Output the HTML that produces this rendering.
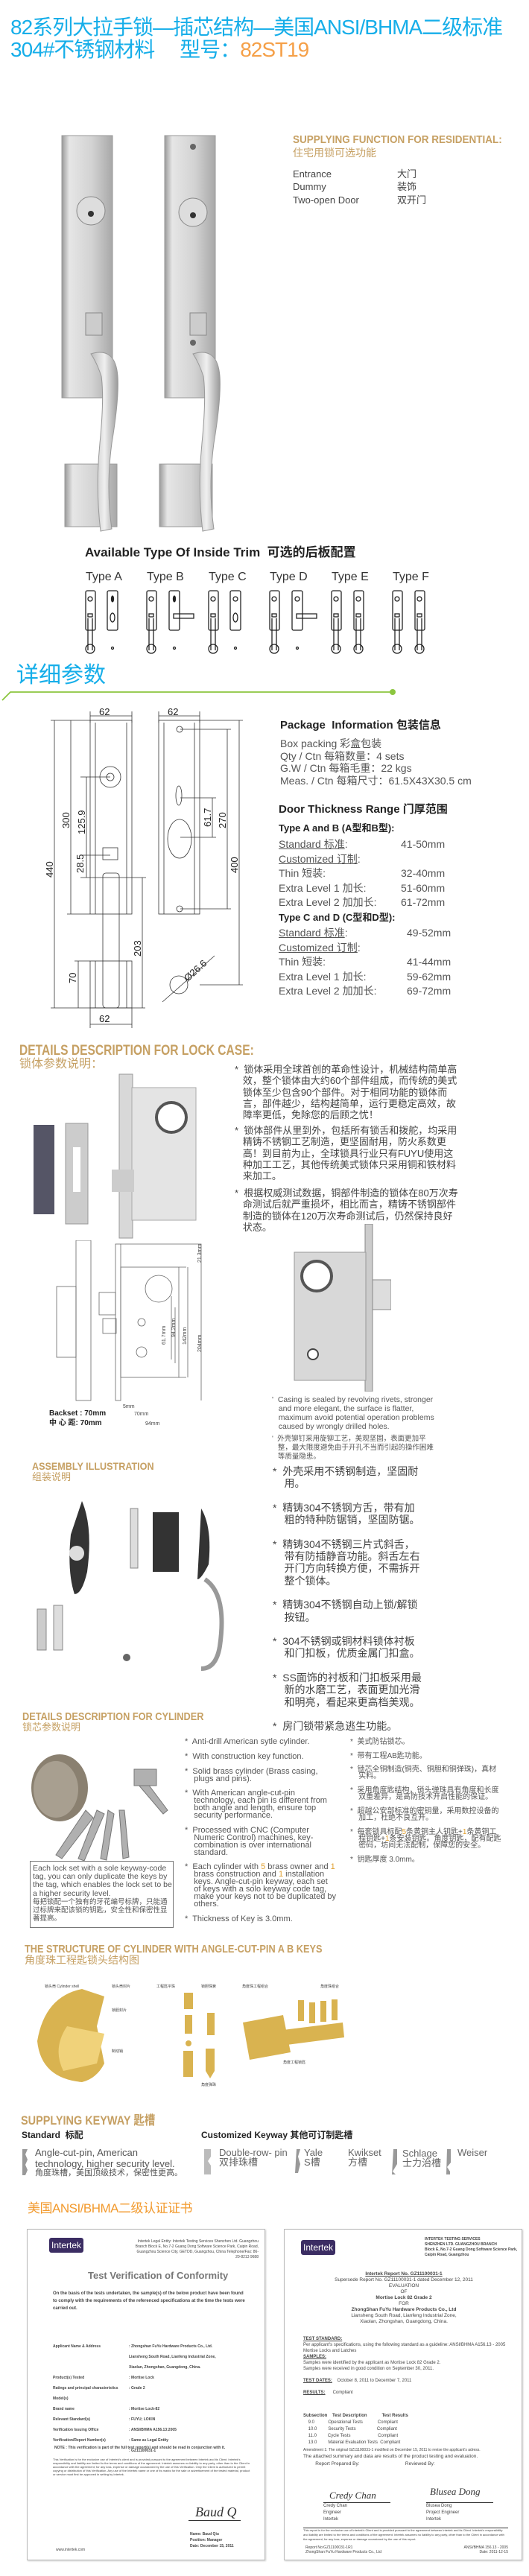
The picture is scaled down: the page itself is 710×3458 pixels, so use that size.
<!DOCTYPE html>
<html><head><meta charset="utf-8"><style>
body{margin:0;background:#fff;}
#p{position:relative;width:710px;height:3458px;overflow:hidden;font-family:"Liberation Sans","Noto Sans CJK SC",sans-serif;color:#555;}
.a{position:absolute;white-space:nowrap;line-height:1;}
.t{color:#16aee9;font-size:28px;}
.g{color:#c6a063;font-weight:bold;transform-origin:0 0;}
.gc{color:#c6a063;}
.s{font-size:13px;color:#444;}
.cert{position:absolute;border:1px solid #bbb;background:#fff;box-shadow:1px 1px 2px #ccc;}
.logo{position:absolute;background:#3b2d63;color:#fff;font-size:12px;padding:3px 3px;border-radius:3px;}
.fine{position:absolute;font-size:5px;color:#444;line-height:7px;white-space:normal;}
</style></head><body><div id="p">

<div class="a t" style="left:14px;top:23px;letter-spacing:-1px;">82系列大拉手锁—插芯结构—美国ANSI/BHMA二级标准</div>
<div class="a t" style="left:14px;top:53px;letter-spacing:-1px;">304#不锈钢材料&nbsp;&nbsp;&nbsp;&nbsp;&nbsp;型号：<span style="color:#f5a048">82ST19</span></div>

<svg class="a" style="left:60px;top:175px" width="260" height="550">
<defs><linearGradient id="m" x1="0" x2="1"><stop offset="0" stop-color="#9a9a9a"/><stop offset=".15" stop-color="#e6e6e6"/><stop offset=".6" stop-color="#d2d2d2"/><stop offset="1" stop-color="#a8a8a8"/></linearGradient>
<linearGradient id="h" x1="0" x2="1"><stop offset="0" stop-color="#bbb"/><stop offset=".5" stop-color="#f0f0f0"/><stop offset="1" stop-color="#999"/></linearGradient></defs>
<rect x="23" y="7" width="68" height="352" fill="url(#m)" stroke="#999"/>
<rect x="161" y="7" width="68" height="352" fill="url(#m)" stroke="#999"/>
<circle cx="62" cy="108" r="19" fill="#ddd" stroke="#888"/><circle cx="62" cy="112" r="4" fill="#333"/>
<circle cx="199" cy="110" r="19" fill="#ddd" stroke="#888"/><circle cx="199" cy="114" r="4" fill="#333"/>
<circle cx="199" cy="22" r="4" fill="#666"/><circle cx="199" cy="285" r="4" fill="#666"/>
<rect x="55" y="245" width="22" height="30" fill="#ccc" stroke="#888"/><rect x="195" y="245" width="22" height="30" fill="#ccc" stroke="#888"/>
<rect x="27" y="448" width="70" height="84" fill="url(#m)" stroke="#999"/>
<rect x="154" y="448" width="71" height="84" fill="url(#m)" stroke="#999"/>
<path d="M62 300 Q95 290 98 330 Q100 360 90 420 Q82 480 90 535 L75 538 Q68 480 74 420 Q80 360 76 330 Q70 312 62 300Z" fill="url(#h)" stroke="#999"/>
<path d="M199 300 Q232 290 235 330 Q237 360 227 420 Q219 480 227 535 L212 538 Q205 480 211 420 Q217 360 213 330 Q207 312 199 300Z" fill="url(#h)" stroke="#999"/>
</svg>

<div class="a g" style="left:393px;top:180px;font-size:15px;transform:scaleX(.9)">SUPPLYING FUNCTION FOR RESIDENTIAL:</div>
<div class="a gc" style="left:393px;top:198px;font-size:14px">住宅用锁可选功能</div>
<div class="a s" style="left:393px;top:227px">Entrance</div><div class="a s" style="left:533px;top:227px">大门</div>
<div class="a s" style="left:393px;top:244px">Dummy</div><div class="a s" style="left:533px;top:244px">装饰</div>
<div class="a s" style="left:393px;top:262px">Two-open Door</div><div class="a s" style="left:533px;top:262px">双开门</div>

<div class="a" style="left:114px;top:733px;font-size:17px;font-weight:bold;color:#222">Available Type Of Inside Trim&nbsp; 可选的后板配置</div>
<div class="a" style="left:115px;top:767px;font-size:16px;color:#333">Type A</div>
<div class="a" style="left:197px;top:767px;font-size:16px;color:#333">Type B</div>
<div class="a" style="left:280px;top:767px;font-size:16px;color:#333">Type C</div>
<div class="a" style="left:362px;top:767px;font-size:16px;color:#333">Type D</div>
<div class="a" style="left:445px;top:767px;font-size:16px;color:#333">Type E</div>
<div class="a" style="left:527px;top:767px;font-size:16px;color:#333">Type F</div>
<svg class="a" style="left:0;top:790px" width="710" height="92" fill="none" stroke="#222" stroke-width="1.3">
<g id="ty">
<rect x="115" y="3" width="13" height="53" rx="2"/><circle cx="121" cy="14" r="3"/><rect x="118" y="34" width="6" height="4"/>
<path d="M118 40 v43 M124 40 v43"/><circle cx="121" cy="81" r="6"/>
</g>
<g><rect x="144" y="3" width="14" height="53" rx="2"/><ellipse cx="151" cy="14" rx="1.5" ry="4" fill="#222"/><ellipse cx="151" cy="39" rx="3" ry="6"/><circle cx="151" cy="80" r="1.5"/></g>
<use href="#ty" x="82"/>
<g><rect x="227" y="3" width="14" height="53" rx="2"/><ellipse cx="234" cy="14" rx="1.5" ry="4" fill="#222"/><path d="M233 34 h27 v6 h-27z"/><circle cx="234" cy="80" r="1.5"/></g>
<use href="#ty" x="165"/>
<g><rect x="309" y="3" width="14" height="53" rx="2"/><circle cx="316" cy="14" r="3"/><ellipse cx="316" cy="39" rx="3" ry="6"/><circle cx="316" cy="80" r="1.5"/></g>
<use href="#ty" x="247"/>
<g><rect x="392" y="3" width="14" height="53" rx="2"/><circle cx="399" cy="14" r="3"/><path d="M398 34 h27 v6 h-27z"/><circle cx="399" cy="80" r="1.5"/></g>
<use href="#ty" x="330"/><use href="#ty" x="360"/>
<use href="#ty" x="412"/><use href="#ty" x="442"/>
</svg>

<div class="a" style="left:22px;top:892px;font-size:30px;color:#16aee9">详细参数</div>
<svg class="a" style="left:0;top:920px" width="540" height="30"><path d="M3 20 L14 9 L527 9" stroke="#8cc63f" stroke-width="1.8" fill="none"/><circle cx="527" cy="9" r="4" fill="#8cc63f"/></svg>

<svg class="a" style="left:0;top:940px" width="360" height="440" font-family="Liberation Sans" font-size="12" fill="none" stroke="#333" stroke-width=".8">
<g transform="translate(0,-940)">
<rect x="121" y="967" width="56" height="260"/><path d="M128 970 V1227 M170 970 V1227"/>
<circle cx="148" cy="1043" r="14"/><circle cx="148" cy="1043" r="5"/>
<rect x="138" y="1138" width="20" height="16"/>
<rect x="138" y="1172" width="22" height="181" rx="4"/>
<rect x="121" y="1290" width="56" height="63"/><path d="M128 1290 V1353 M170 1290 V1353"/>
<rect x="213" y="967" width="55" height="260"/><path d="M220 970 V1227 M261 970 V1227"/>
<circle cx="241" cy="979" r="4"/><circle cx="241" cy="1220" r="4"/>
<ellipse cx="240" cy="1068" rx="4" ry="13"/><ellipse cx="241" cy="1126" rx="16" ry="26"/>
<path d="M68 967 H121 M68 1353 H195 M90 1227 H121 M108 1043 H148 M108 1148 H148 M108 1178 H196 M100 1290 H121 M242 979 H310 M242 1071 H290 M242 1124 H290 M242 1220 H310 M268 967 H326 M268 1322 H326"/>
<path d="M73 967 V1353 M95 967 V1227 M116 1043 V1148 M116 1148 V1178 M105 1290 V1353 M191 1178 V1353 M321 967 V1322 M305 979 V1220 M285 1071 V1124"/>
<path d="M121 955 V970 M177 955 V970 M121 961 H177 M213 955 V970 M268 955 V970 M213 961 H268 M121 1353 V1382 M177 1353 V1382 M121 1375 H177"/>
<circle cx="240" cy="1322" r="12"/><path d="M218 1345 L288 1283"/>
</g>
<g fill="#222" stroke="none" font-size="13">
<text x="133" y="20">62</text><text x="225" y="20">62</text><text x="133" y="432">62</text>
<text transform="translate(71,238) rotate(-90)">440</text>
<text transform="translate(93,172) rotate(-90)">300</text>
<text transform="translate(114,180) rotate(-90)">125.9</text>
<text transform="translate(112,232) rotate(-90)">28.5</text>
<text transform="translate(102,380) rotate(-90)">70</text>
<text transform="translate(189,344) rotate(-90)">203</text>
<text transform="translate(319,232) rotate(-90)">400</text>
<text transform="translate(303,172) rotate(-90)">270</text>
<text transform="translate(283,170) rotate(-90)">61.7</text>
<text transform="translate(252,378) rotate(-42)">Ø26.6</text>
</g></svg>

<div class="a" style="left:376px;top:966px;font-size:15px;font-weight:bold;color:#222">Package&nbsp; Information 包装信息</div>
<div class="a" style="left:376px;top:990px;font-size:14px;line-height:16.5px;color:#555;white-space:pre">Box packing 彩盒包装
Qty / Ctn 每箱数量：4 sets
G.W / Ctn 每箱毛重：22 kgs
Meas. / Ctn 每箱尺寸：61.5X43X30.5 cm</div>
<div class="a" style="left:374px;top:1079px;font-size:15px;font-weight:bold;color:#222">Door Thickness Range 门厚范围</div>
<div class="a" style="left:374px;top:1105px;font-size:13px;font-weight:bold;color:#222">Type A and B (A型和B型):</div>
<div class="a" style="left:374px;top:1124px;font-size:14px;line-height:19.5px;color:#555;white-space:pre"><u>Standard 标准</u>:
<u>Customized 订制</u>:
Thin 短装:
Extra Level 1 加长:
Extra Level 2 加加长:</div>
<div class="a" style="left:538px;top:1124px;font-size:14px;line-height:19.5px;color:#555;white-space:pre">41-50mm

32-40mm
51-60mm
61-72mm</div>
<div class="a" style="left:374px;top:1225px;font-size:13px;font-weight:bold;color:#222">Type C and D (C型和D型):</div>
<div class="a" style="left:374px;top:1243px;font-size:14px;line-height:19.5px;color:#555;white-space:pre"><u>Standard 标准</u>:
<u>Customized 订制</u>:
Thin 短装:
Extra Level 1 加长:
Extra Level 2 加加长:</div>
<div class="a" style="left:546px;top:1243px;font-size:14px;line-height:19.5px;color:#555;white-space:pre">49-52mm

41-44mm
59-62mm
69-72mm</div>

<div class="a g" style="left:26px;top:1401px;font-size:19px;transform:scaleX(.82)">DETAILS DESCRIPTION FOR LOCK CASE:</div>
<div class="a gc" style="left:26px;top:1421px;font-size:16px">锁体参数说明：</div>
<div class="a" style="left:315px;top:1428px;font-size:13px;line-height:15.3px;color:#444;white-space:pre">*  锁体采用全球首创的革命性设计，机械结构简单高
   效，整个锁体由大约60个部件组成，而传统的美式
   锁体至少包含90个部件。对于相同功能的锁体而
   言，部件越少，结构越简单，运行更稳定高效，故
   障率更低，免除您的后顾之忧！</div>
<div class="a" style="left:315px;top:1510px;font-size:13px;line-height:15.3px;color:#444;white-space:pre">*  锁体部件从里到外，包括所有锁舌和拨舵，均采用
   精铸不锈钢工艺制造，更坚固耐用，防火系数更
   高！到目前为止，全球锁具行业只有FUYU使用这
   种加工工艺，其他传统美式锁体只采用铜和铁材料
   来加工。</div>
<div class="a" style="left:315px;top:1594px;font-size:13px;line-height:15.3px;color:#444;white-space:pre">*  根据权威测试数据，铜部件制造的锁体在80万次寿
   命测试后就严重损坏，相比而言，精铸不锈钢部件
   制造的锁体在120万次寿命测试后，仍然保持良好
   状态。</div>

<svg class="a" style="left:40px;top:1440px" width="230" height="225">
<rect x="5" y="70" width="28" height="120" fill="#556" /><rect x="48" y="68" width="30" height="135" fill="#ccc" stroke="#999"/><rect x="58" y="100" width="10" height="60" fill="#fff"/>
<rect x="120" y="2" width="18" height="220" fill="#d8d8d8" stroke="#999"/>
<rect x="137" y="20" width="86" height="178" fill="#e4e4e4" stroke="#aaa"/><circle cx="190" cy="60" r="20" fill="#fff" stroke="#555" stroke-width="4"/>
<rect x="110" y="130" width="30" height="30" fill="#ccc"/></svg>
<svg class="a" style="left:70px;top:1665px" width="240" height="250" fill="none" stroke="#666" stroke-width=".8" font-family="Liberation Sans" font-size="7">
<rect x="32" y="0" width="20" height="215"/><rect x="6" y="62" width="26" height="95"/>
<rect x="85" y="5" width="7" height="210"/><rect x="92" y="36" width="78" height="148"/>
<circle cx="143" cy="65" r="18"/><circle cx="120" cy="110" r="5"/><circle cx="120" cy="150" r="7"/>
<rect x="63" y="70" width="22" height="30"/><rect x="68" y="105" width="18" height="20"/>
<path d="M92 5 H200 V215 M170 36 H180 M170 184 H180 M182 36 V184 M160 75 V160 M165 90 V165" />
<g fill="#444" stroke="none"><text transform="translate(200,30) rotate(-90)">21.3mm</text><text transform="translate(200,150) rotate(-90)">204mm</text><text transform="translate(180,140) rotate(-90)">142mm</text><text transform="translate(165,130) rotate(-90)">94.2mm</text><text transform="translate(152,140) rotate(-90)">61.7mm</text><text x="95" y="225">5mm</text><text x="110" y="235">70mm</text><text x="125" y="248">94mm</text></g>
</svg>
<div class="a" style="left:66px;top:1891px;font-size:10px;font-weight:bold;color:#222;line-height:13px;white-space:pre">Backset : 70mm
中 心 距: 70mm</div>
<svg class="a" style="left:390px;top:1643px" width="135" height="225">
<rect x="100" y="0" width="10" height="225" fill="#ccc" stroke="#888"/><rect x="5" y="38" width="96" height="172" fill="#d8d8d8" stroke="#999"/>
<circle cx="35" cy="70" r="20" fill="#fff" stroke="#555" stroke-width="4"/><rect x="110" y="75" width="25" height="40" fill="#ddd" stroke="#888"/><circle cx="30" cy="175" r="7" fill="#fff" stroke="#444" stroke-width="2"/></svg>
<div class="a" style="left:365px;top:1873px;font-size:10.5px;line-height:12px;color:#555;white-space:pre">'  Casing is sealed by revolving rivets, stronger
   and more elegant, the surface is flatter,
   maximum avoid potential operation problems
   caused by wrongly drilled holes.</div>
<div class="a" style="left:365px;top:1926px;font-size:9.5px;line-height:12px;color:#555;white-space:pre">'  外壳铆钉采用旋铆工艺，美观坚固，表面更加平
   整，最大限度避免由于开孔不当而引起的操作困难
   等质量隐患。</div>

<div class="a g" style="left:43px;top:1961px;font-size:14px;transform:scaleX(.9)">ASSEMBLY ILLUSTRATION</div>
<div class="a gc" style="left:43px;top:1976px;font-size:13px">组装说明</div>
<div class="a" style="left:366px;top:1967px;font-size:14px;line-height:16.3px;color:#444;white-space:pre">*  外壳采用不锈钢制造，坚固耐
    用。

*  精铸304不锈钢方舌，带有加
    粗的特种防锯销，坚固防锯。

*  精铸304不锈钢三片式斜舌，
    带有防插静音功能。斜舌左右
    开门方向转换方便，不需拆开
    整个锁体。

*  精铸304不锈钢自动上锁/解锁
    按钮。

*  304不锈钢或铜材料锁体衬板
    和门扣板，优质金属门扣盒。

*  SS面饰的衬板和门扣板采用最
    新的水磨工艺，表面更加光滑
    和明亮，看起来更高档美观。

*  房门锁带紧急逃生功能。</div>
<svg class="a" style="left:45px;top:2010px" width="260" height="260" fill="#333">
<path d="M65 5 Q80 40 72 100 Q65 130 55 130 Q45 100 50 50Z"/><circle cx="58" cy="75" r="10" fill="#ddd"/>
<rect x="130" y="15" width="10" height="80" fill="#ddd" stroke="#888"/><rect x="160" y="20" width="35" height="80"/>
<path d="M225 15 Q240 40 235 90 Q225 110 220 110Z"/><path d="M230 110 Q260 130 250 200 Q245 230 225 230" fill="none" stroke="#999" stroke-width="6"/>
<rect x="5" y="150" width="12" height="55" fill="#ccc" stroke="#888"/><rect x="27" y="145" width="12" height="60" fill="#ddd" stroke="#888"/><circle cx="125" cy="215" r="5" fill="#666"/></svg>

<div class="a g" style="left:30px;top:2297px;font-size:15px;transform:scaleX(.85)">DETAILS DESCRIPTION FOR CYLINDER</div>
<div class="a gc" style="left:30px;top:2312px;font-size:13px">锁芯参数说明</div>
<svg class="a" style="left:35px;top:2350px" width="200" height="150">
<ellipse cx="45" cy="50" rx="38" ry="45" fill="#8a8070"/><ellipse cx="40" cy="52" rx="30" ry="38" fill="#a89f90"/>
<g fill="#b0b0b0" stroke="#777"><path d="M80 80 L40 140 L48 145 L90 90Z"/><path d="M95 80 L70 145 L78 148 L105 85Z"/><path d="M110 80 L100 145 L108 147 L118 85Z"/><path d="M125 80 L130 145 L138 143 L132 80Z"/><path d="M160 40 L190 80 L184 85 L150 45Z"/><rect x="145" y="25" width="30" height="22"/></g></svg>
<div class="a" style="left:40px;top:2498px;width:191px;height:88px;border:1px solid #777;"></div>
<div class="a" style="left:44px;top:2503px;font-size:10.5px;line-height:11.2px;color:#555;white-space:pre">Each lock set with a sole keyway-code
tag, you can only duplicate the keys by
the tag, which enables the lock set to be
a higher security level.
<span style="font-size:9.5px">每把锁配一个独有的牙花编号标牌，只能通
过标牌来配该锁的钥匙，安全性和保密性显
著提高。</span></div>
<div class="a" style="left:248px;top:2334px;font-size:11px;line-height:9.9px;color:#555;white-space:pre">*  Anti-drill American sytle cylinder.

*  With construction key function.

*  Solid brass cylinder (Brass casing,
    plugs and pins).

*  With American angle-cut-pin
    technology, each pin is different from
    both angle and length, ensure top
    security performance.

*  Processed with CNC (Computer
    Numeric Control) machines, key-
    combination is over international
    standard.

*  Each cylinder with <span style="color:#e0a030">5</span> brass owner and <span style="color:#e0a030">1</span>
    brass construction and <span style="color:#e0a030">1</span> installation
    keys. Angle-cut-pin keyway, each set
    of keys with a solo keyway code tag,
    make your keys not to be duplicated by
    others.

*  Thickness of Key is 3.0mm.</div>
<div class="a" style="left:470px;top:2334px;font-size:10px;line-height:9.3px;color:#555;white-space:pre">*  美式防钻锁芯。

*  带有工程AB匙功能。

*  锁芯全铜制造(铜壳、铜胆和铜弹珠)，真材
    实料。

*  采用角度匙结构，锁头弹珠具有角度和长度
    双重差异，是高防技术开启性能的保证。

*  超越公安部标准的密钥量，采用数控设备的
    加工，杜绝不良互开。

*  每套锁具标配<span style="color:#e0a030">5</span>条黄铜主人钥匙+<span style="color:#e0a030">1</span>条黄铜工
    程钥匙+<span style="color:#e0a030">1</span>条安装钥匙。角度钥匙，配有配匙
    密码，坊间无法配制，保障您的安全。

*  钥匙厚度 3.0mm。</div>

<div class="a g" style="left:33px;top:2609px;font-size:15px;transform:scaleX(.85)">THE STRUCTURE OF CYLINDER WITH ANGLE-CUT-PIN A B KEYS</div>
<div class="a gc" style="left:33px;top:2624px;font-size:14px">角度珠工程匙锁头结构图</div>
<svg class="a" style="left:30px;top:2660px" width="450" height="155" font-family="Liberation Sans" font-size="5" >
<path d="M80 10 Q30 20 20 80 Q25 130 80 135 Q100 130 110 110 L100 60 L110 20Z" fill="#d9b350"/><path d="M60 60 Q40 90 55 120 L100 110 L110 70Z" fill="#f0d27a"/>
<g fill="#d9b350"><rect x="217" y="15" width="12" height="22"/><rect x="218" y="45" width="10" height="25"/><circle cx="223" cy="83" r="4"/><rect x="216" y="93" width="13" height="35"/><rect x="248" y="42" width="10" height="30"/><path d="M246 90 h12 v30 l-6 10 l-6 -10z"/>
<path d="M296 55 L350 45 L360 95 L305 105Z"/><path d="M350 65 L430 55 L432 75 L355 85Z"/><rect x="370" y="25" width="8" height="28"/><rect x="385" y="28" width="8" height="28"/><rect x="400" y="26" width="8" height="28"/><rect x="415" y="24" width="8" height="28"/></g>
<g fill="#444"><text x="30" y="8">锁头壳 Cylinder shell</text><text x="120" y="8">锁头壳封片</text><text x="120" y="40">锁胆封片</text><text x="120" y="95">制动销</text><text x="180" y="8">工程匙平珠</text><text x="240" y="8">锁胆珠簧</text><text x="295" y="8">角度珠工程组合</text><text x="400" y="8">角度珠组合</text><text x="350" y="110">角度工程锁匙</text><text x="240" y="140">角度弹珠</text></g></svg>

<div class="a g" style="left:28px;top:2838px;font-size:17px;transform:scaleX(.85)">SUPPLYING KEYWAY 匙槽</div>
<div class="a" style="left:29px;top:2860px;font-size:12px;font-weight:bold;color:#222">Standard&nbsp; 标配</div>
<div class="a" style="left:270px;top:2860px;font-size:12px;font-weight:bold;color:#222">Customized Keyway 其他可订制匙槽</div>
<svg class="a" style="left:28px;top:2883px" width="400" height="40" fill="#999"><path d="M2 2 h7 l-3 7 l3 7 l-3 7 l3 7 l-3 7 h-4z"/><path d="M246 2 h9 v10 l-4 6 l4 6 v12 h-9z" fill="#bbb"/><path d="M370 2 h5 l-3 10 l3 10 l-3 12 h-4z"/><path d="M426 2 h5 v30 l-5 3z"/></svg>
<svg class="a" style="left:520px;top:2883px" width="100" height="40" fill="#999"><path d="M8 2 h5 v20 l-6 10 l4 4 h-5 z"/><path d="M80 2 h5 v18 l-5 6 l4 6 v4 h-5z"/></svg>
<div class="a" style="left:47px;top:2882px;font-size:13px;line-height:15px;color:#555;white-space:pre">Angle-cut-pin, American
technology, higher security level.</div>
<div class="a" style="left:47px;top:2912px;font-size:11px;color:#555">角度珠槽，美国顶级技术，保密性更高。</div>
<div class="a" style="left:294px;top:2883px;font-size:13px;line-height:13px;color:#666;white-space:pre">Double-row- pin
双排珠槽</div>
<div class="a" style="left:408px;top:2883px;font-size:13px;line-height:13px;color:#666;white-space:pre">Yale
S槽</div>
<div class="a" style="left:467px;top:2883px;font-size:13px;line-height:13px;color:#666;white-space:pre">Kwikset
方槽</div>
<div class="a" style="left:540px;top:2884px;font-size:13px;line-height:13px;color:#666;white-space:pre">Schlage
士力治槽</div>
<div class="a" style="left:614px;top:2883px;font-size:13px;color:#666">Weiser</div>

<div class="a" style="left:37px;top:2956px;font-size:17px;color:#f29a2e;letter-spacing:-.5px">美国ANSI/BHMA二级认证证书</div>

<div class="cert" style="left:36px;top:2992px;width:318px;height:443px">
<div class="logo" style="left:29px;top:11px">Intertek</div>
<div class="fine" style="left:140px;top:13px;width:170px;text-align:right">Intertek Legal Entity: Intertek Testing Services Shenzhen Ltd. Guangzhou Branch Block E, No.7-2 Guang Dong Software Science Park, Caipin Road, Guangzhou Science City, GETDD, Guangzhou, China Telephone/Fax: 86-20-8213 9688</div>
<div class="a" style="left:81px;top:55px;font-size:13px;font-weight:bold;color:#777">Test Verification of Conformity</div>
<div class="fine" style="left:34px;top:81px;width:260px;font-size:6px;font-weight:bold;line-height:10px">On the basis of the tests undertaken, the sample(s) of the below product have been found to comply with the requirements of the referenced specifications at the time the tests were carried out.</div>
<div class="fine" style="left:34px;top:150px;width:100px;font-weight:bold;line-height:14px">Applicant Name &amp; Address<br><br><br>Product(s) Tested<br>Ratings and principal characteristics<br>Model(s)<br>Brand name<br>Relevant Standard(s)<br>Verification Issuing Office<br>Verification/Report Number(s)</div>
<div class="fine" style="left:136px;top:150px;width:160px;font-weight:bold;line-height:14px">: Zhongshan FuYu Hardware Products Co., Ltd.<br>Liansheng South Road, Lianfeng Industrial Zone,<br>Xiaolan, Zhongshan, Guangdong, China.<br>: Mortise Lock<br>: Grade 2<br><br>: Mortise Lock-82<br>: FUYU; LOKIN<br>: ANSI/BHMA A156.13:2005<br>: Same as Legal Entity<br>: GZ11100031-1</div>
<div class="fine" style="left:36px;top:290px;width:260px;font-weight:bold">NOTE : This verification is part of the full test report(s) and should be read in conjunction with it.</div>
<div class="fine" style="left:34px;top:306px;width:268px;line-height:5px;font-size:4px">This Verification is for the exclusive use of Intertek's client and is provided pursuant to the agreement between Intertek and its Client. Intertek's responsibility and liability are limited to the terms and conditions of the agreement. Intertek assumes no liability to any party, other than to the Client in accordance with the agreement, for any loss, expense or damage occasioned by the use of this Verification. Only the Client is authorized to permit copying or distribution of this Verification. Any use of the Intertek name or one of its marks for the sale or advertisement of the tested material, product or service must first be approved in writing by Intertek.</div>
<div class="a" style="left:225px;top:370px;font-size:18px;font-style:italic;color:#333;font-family:'Liberation Serif',serif">Baud Q</div>
<div class="a" style="left:216px;top:390px;width:70px;border-top:1px solid #333"></div>
<div class="fine" style="left:218px;top:405px;width:100px;font-weight:bold;line-height:8px">Name: Baud Qiu<br>Position: Manager<br>Date: December 15, 2011</div>
<div class="fine" style="left:38px;top:427px;width:100px">www.intertek.com</div>
</div>

<div class="cert" style="left:381px;top:2992px;width:318px;height:443px">
<div class="logo" style="left:22px;top:14px">Intertek</div>
<div class="fine" style="left:188px;top:10px;width:125px;font-weight:bold">INTERTEK TESTING SERVICES<br>SHENZHEN LTD. GUANGZHOU BRANCH<br>Block E, No.7-2 Guang Dong Software Science Park, Caipin Road, Guangzhou</div>
<div class="fine" style="left:20px;top:56px;width:280px;text-align:center;font-size:6.5px;line-height:8px"><b><u>Intertek Report No. GZ11100031-1</u></b><br>Supersede Report No. GZ11100031-1 dated December 12, 2011<br>EVALUATION<br>OF<br><b>Mortise Lock 82 Grade 2</b><br>FOR<br><b>ZhongShan FuYu Hardware Products Co., Ltd</b><br>Liansheng South Road, Lianfeng Industrial Zone,<br>Xiaolan, Zhongshan, Guangdong, China.</div>
<div class="fine" style="left:25px;top:143px;width:280px;font-size:6px;line-height:8px"><b><u>TEST STANDARD:</u></b><br>Per applicant's specifications, using the following standard as a guideline: ANSI/BHMA A156.13 - 2005 Mortise Locks and Latches<br><b><u>SAMPLES:</u></b><br>Samples were identified by the applicant as Mortise Lock 82 Grade 2.<br>Samples were received in good condition on September 30, 2011.<br><br><b><u>TEST DATES:</u></b>&nbsp;&nbsp;&nbsp; October 8, 2011 to December 7, 2011<br><br><b><u>RESULTS:</u></b>&nbsp;&nbsp;&nbsp;&nbsp;&nbsp; Compliant</div>
<div class="fine" style="left:25px;top:246px;width:280px;font-size:6px;line-height:9px;white-space:pre"><b>Subsection    Test Description            Test Results</b>
    9.0           Operational Tests            Compliant
    10.0         Security Tests                 Compliant
    11.0         Cycle Tests                      Compliant
    13.0         Material Evaluation Tests  Compliant</div>
<div class="fine" style="left:25px;top:293px;width:280px;font-size:5px">Amendment 1: The original GZ11100031-1 modified on December 15, 2011 to revise the applicant's adress.</div>
<div class="fine" style="left:25px;top:300px;width:280px;font-size:6.5px;line-height:10px">The attached summary and data are results of the product testing and evaluation.<br>&nbsp;&nbsp;&nbsp;&nbsp;&nbsp;&nbsp;&nbsp;&nbsp;&nbsp;Report Prepared By: &nbsp;&nbsp;&nbsp;&nbsp;&nbsp;&nbsp;&nbsp;&nbsp;&nbsp;&nbsp;&nbsp;&nbsp;&nbsp;&nbsp;&nbsp;&nbsp;&nbsp;&nbsp;&nbsp;&nbsp;&nbsp;&nbsp;&nbsp;&nbsp;&nbsp;&nbsp;&nbsp;&nbsp;&nbsp;&nbsp;&nbsp;&nbsp; Reviewed By:</div>
<div class="a" style="left:60px;top:350px;font-size:13px;font-style:italic;color:#333;font-family:'Liberation Serif',serif">Credy Chan</div>
<div class="a" style="left:195px;top:345px;font-size:13px;font-style:italic;color:#333;font-family:'Liberation Serif',serif">Blusea Dong</div>
<div class="fine" style="left:52px;top:366px;width:90px;font-size:6px;line-height:9px;border-top:1px solid #333">Credy Chan<br>Engineer<br>Intertek</div>
<div class="fine" style="left:190px;top:366px;width:90px;font-size:6px;line-height:9px;border-top:1px solid #333">Blusea Dong<br>Project Engineer<br>Intertek</div>
<div class="fine" style="left:25px;top:400px;width:275px;font-size:4px;line-height:6px;border-top:1px solid #333">This report is for the exclusive use of Intertek's Client and is provided pursuant to the agreement between Intertek and its Client. Intertek's responsibility and liability are limited to the terms and conditions of the agreement. Intertek assumes no liability to any party, other than to the Client in accordance with the agreement, for any loss, expense or damage occasioned by the use of this report.</div>
<div class="fine" style="left:28px;top:424px;width:130px;font-size:5px;line-height:6px">Report No:GZ11100031-1R1<br>ZhongShan FuYu Hardware Products Co., Ltd</div>
<div class="fine" style="left:210px;top:424px;width:90px;font-size:5px;line-height:6px;text-align:right">ANSI/BHMA 156.13 - 2005<br>Date: 2011-12-15</div>
</div>

</div></body></html>
